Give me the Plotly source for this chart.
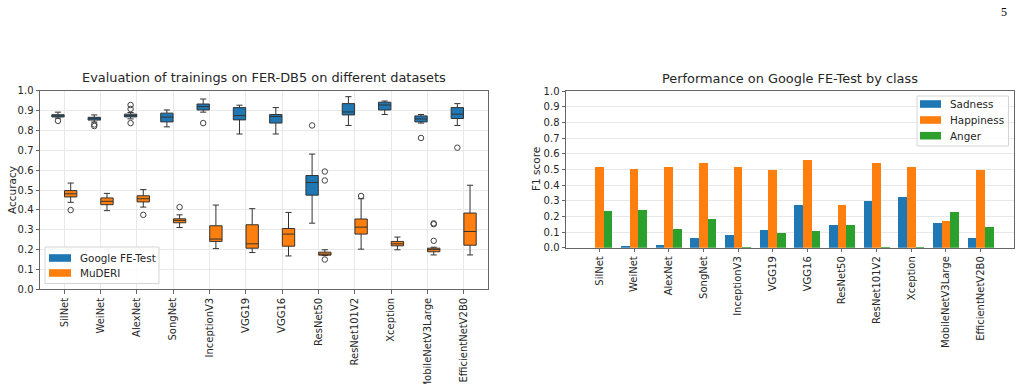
import plotly.graph_objects as go

models = ["SilNet", "WeiNet", "AlexNet", "SongNet", "InceptionV3", "VGG19", "VGG16",
          "ResNet50", "ResNet101V2", "Xception", "MobileNetV3Large", "EfficientNetV2B0"]

# Box statistics (Accuracy)
google_lower = [0.862, 0.842, 0.858, 0.818, 0.892, 0.782, 0.782, 0.333, 0.825, 0.880, 0.837, 0.825]
google_q1 = [0.868, 0.852, 0.868, 0.843, 0.903, 0.853, 0.837, 0.474, 0.878, 0.903, 0.843, 0.860]
google_median = [0.873, 0.859, 0.875, 0.867, 0.920, 0.875, 0.870, 0.538, 0.893, 0.928, 0.858, 0.882]
google_q3 = [0.879, 0.866, 0.882, 0.887, 0.933, 0.915, 0.880, 0.573, 0.935, 0.942, 0.873, 0.915]
google_upper = [0.892, 0.878, 0.890, 0.903, 0.958, 0.927, 0.915, 0.681, 0.970, 0.948, 0.880, 0.935]
google_outliers = [[0.848], [0.830, 0.822], [0.928, 0.908, 0.837], [], [0.837], [], [],
                   [0.825], [], [], [0.762], [0.713]]

muderi_lower = [0.438, 0.396, 0.414, 0.311, 0.205, 0.185, 0.168, 0.170, 0.202, 0.199, 0.173, 0.173]
muderi_q1 = [0.465, 0.426, 0.440, 0.335, 0.241, 0.207, 0.217, 0.172, 0.278, 0.219, 0.189, 0.222]
muderi_median = [0.481, 0.443, 0.456, 0.347, 0.253, 0.229, 0.278, 0.177, 0.313, 0.229, 0.200, 0.291]
muderi_q3 = [0.497, 0.460, 0.471, 0.355, 0.320, 0.325, 0.306, 0.187, 0.354, 0.241, 0.207, 0.384]
muderi_upper = [0.535, 0.483, 0.502, 0.375, 0.424, 0.406, 0.387, 0.199, 0.456, 0.263, 0.212, 0.524]
muderi_outliers = [[0.399], [], [0.375], [0.414], [], [], [], [0.593, 0.548, 0.150],
                   [0.470], [], [0.332, 0.328, 0.244], []]

# F1 scores
sadness = [0.000, 0.006, 0.015, 0.062, 0.079, 0.113, 0.274, 0.145, 0.298, 0.323, 0.155, 0.060]
happiness = [0.513, 0.500, 0.515, 0.538, 0.515, 0.498, 0.560, 0.274, 0.543, 0.513, 0.172, 0.496]
anger = [0.236, 0.238, 0.117, 0.185, 0.004, 0.091, 0.106, 0.147, 0.004, 0.004, 0.228, 0.132]

box_series = ["Google FE-Test", "MuDERI"]
bar_series = ["Sadness", "Happiness", "Anger"]

yticks = [round(0.1 * i, 1) for i in range(11)]

BLUE = "#1f77b4"
ORANGE = "#ff7f0e"
GREEN = "#2ca02c"
FONT = "DejaVu Sans"
TXT = "#262626"
W, H = 1030, 384

idx = list(range(len(models)))
BOX_OFF = 0.175
BOX_W = 0.34

fig = go.Figure()

# ---- left panel: box plots ----
for name, color, off, lo, q1, med, q3, up, outs in [
    (box_series[0], BLUE, -BOX_OFF, google_lower, google_q1, google_median, google_q3, google_upper, google_outliers),
    (box_series[1], ORANGE, BOX_OFF, muderi_lower, muderi_q1, muderi_median, muderi_q3, muderi_upper, muderi_outliers),
]:
    fig.add_trace(go.Box(
        x=[i + off for i in idx], q1=q1, median=med, q3=q3, lowerfence=lo, upperfence=up,
        width=BOX_W, fillcolor=color, line=dict(color="#333333", width=1),
        whiskerwidth=0.5, boxpoints=False, showlegend=False, name=name,
        xaxis="x", yaxis="y", hoverinfo="skip"))
    ox, oy = [], []
    for i, vals in enumerate(outs):
        for v in vals:
            ox.append(i + off)
            oy.append(v)
    fig.add_trace(go.Scatter(
        x=ox, y=oy, mode="markers", showlegend=False,
        marker=dict(symbol="circle-open", size=5.5, color="#444444", line=dict(width=1)),
        xaxis="x", yaxis="y", hoverinfo="skip"))

# ---- right panel: grouped bars ----
for name, color, off, vals in [(bar_series[0], BLUE, -0.25, sadness),
                               (bar_series[1], ORANGE, 0.0, happiness),
                               (bar_series[2], GREEN, 0.25, anger)]:
    fig.add_trace(go.Bar(
        x=[i + off for i in idx], y=vals, width=0.25, name=name, showlegend=False,
        marker=dict(color=color, line=dict(width=0)),
        xaxis="x2", yaxis="y2"))


def px_x(p):
    return p / W


def px_y(p):
    return 1 - p / H


shapes = []
annotations = []


def draw_legend(x0, y0, x1, y1, names, colors, row_centers, patch_x0, patch_x1, text_x, fsize):
    shapes.append(dict(type="rect", xref="paper", yref="paper",
                       x0=px_x(x0), x1=px_x(x1), y0=px_y(y1), y1=px_y(y0),
                       line=dict(color="#d5d5d5", width=1), fillcolor="rgba(255,255,255,0.85)",
                       layer="above"))
    for n, c, yc in zip(names, colors, row_centers):
        shapes.append(dict(type="rect", xref="paper", yref="paper",
                           x0=px_x(patch_x0), x1=px_x(patch_x1),
                           y0=px_y(yc + 3.8), y1=px_y(yc - 3.8),
                           line=dict(width=0), fillcolor=c, layer="above"))
        annotations.append(dict(text=n, x=px_x(text_x), y=px_y(yc), xref="paper", yref="paper",
                                xanchor="left", yanchor="middle", showarrow=False,
                                font=dict(family=FONT, size=fsize, color=TXT)))


draw_legend(45, 247, 159, 283.5, box_series, [BLUE, ORANGE], [258, 273], 49, 71, 78, 10.4)
draw_legend(917, 96, 1008.5, 146, bar_series, [BLUE, ORANGE, GREEN], [104, 120, 135.7], 920, 941, 948, 10.4)

annotations += [
    dict(text="Evaluation of trainings on FER-DB5 on different datasets",
         x=px_x(264), y=px_y(87), xref="paper", yref="paper",
         xanchor="center", yanchor="bottom", showarrow=False,
         font=dict(family=FONT, size=12.9, color=TXT)),
    dict(text="Performance on Google FE-Test by class",
         x=px_x(790), y=px_y(88), xref="paper", yref="paper",
         xanchor="center", yanchor="bottom", showarrow=False,
         font=dict(family=FONT, size=12.9, color=TXT)),
    dict(text="Accuracy", x=px_x(12), y=px_y(190), xref="paper", yref="paper",
         xanchor="center", yanchor="middle", showarrow=False, textangle=-90,
         font=dict(family=FONT, size=10.5, color=TXT)),
    dict(text="F1 score", x=px_x(536), y=px_y(169), xref="paper", yref="paper",
         xanchor="center", yanchor="middle", showarrow=False, textangle=-90,
         font=dict(family=FONT, size=10.5, color=TXT)),
    dict(text="5", x=px_x(1009), y=px_y(12), xref="paper", yref="paper",
         xanchor="right", yanchor="middle", showarrow=False,
         font=dict(family="Liberation Serif", size=12, color="#000000")),
]

axis_common = dict(
    showline=True, linecolor="#666666", linewidth=1, mirror=True,
    ticks="outside", ticklen=3.5, tickcolor="#666666",
    tickfont=dict(family=FONT, size=10, color=TXT),
    automargin=False, zeroline=False,
)

fig.update_layout(
    width=W, height=H, template="none",
    margin=dict(l=0, r=0, t=0, b=0),
    paper_bgcolor="white", plot_bgcolor="white",
    font=dict(family=FONT, size=10, color=TXT),
    bargap=0, barmode="overlay", showlegend=False,
    xaxis=dict(domain=[px_x(40), px_x(488)], range=[-0.67, 11.67],
               tickmode="array", tickvals=idx, ticktext=models, tickangle=-90,
               showgrid=True, gridcolor="#e8e8e8", anchor="y", **axis_common),
    yaxis=dict(domain=[px_y(289.3), px_y(90.7)], range=[0, 1.0],
               tickmode="array", tickvals=yticks, ticktext=[f"{v:.1f}" for v in yticks],
               showgrid=True, gridcolor="#e8e8e8", anchor="x", **axis_common),
    xaxis2=dict(domain=[px_x(566), px_x(1014)], range=[-0.9625, 11.9625],
                tickmode="array", tickvals=idx, ticktext=models, tickangle=-90,
                showgrid=False, anchor="y2", **axis_common),
    yaxis2=dict(domain=[px_y(247.7), px_y(91)], range=[0, 1.0],
                tickmode="array", tickvals=yticks, ticktext=[f"{v:.1f}" for v in yticks],
                showgrid=True, gridcolor="#e8e8e8", anchor="x2", **axis_common),
    shapes=shapes,
    annotations=annotations,
)

fig.write_html("out.html")
